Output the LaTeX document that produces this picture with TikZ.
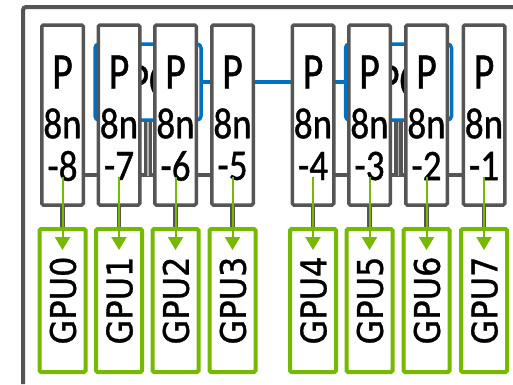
\documentclass[tikz,border=0pt]{standalone}
\usepackage{fontspec}
\newfontfamily\boxfont[FakeBold=1.0]{Carlito}
\newfontfamily\gpufont[FakeBold=1.0]{DejaVu Sans}
\usetikzlibrary{arrows.meta}
\definecolor{framegray}{HTML}{555555}
\definecolor{nvgreen}{HTML}{76B900}
\definecolor{linkblue}{HTML}{0070C0}
\begin{document}
\begin{tikzpicture}[x=1pt,y=-1pt,
  pbox/.style={draw=framegray,line width=3.5pt,fill=white,rounded corners=1.5pt,
    minimum width=41.5pt,minimum height=180pt,inner sep=0pt},
  gbox/.style={draw=nvgreen,line width=4pt,fill=white,rounded corners=1.5pt,
    minimum width=46pt,minimum height=143pt,inner sep=0pt},
  switchbox/.style={draw=linkblue,line width=3.5pt,rounded corners=4pt,
    minimum width=106pt,minimum height=76pt,inner sep=0pt},
  link/.style={draw=linkblue,line width=3.5pt},
  bus/.style={draw=framegray,line width=3.5pt},
  uplink/.style={draw=framegray,line width=3.3pt,double=framegray!45,double distance=1.8pt},
  feed/.style={draw=framegray,line width=4.5pt},
  garrow/.style={draw=nvgreen,fill=nvgreen,line width=2pt,-{Triangle[width=15pt,length=13pt]}},
  bigp/.style={font=\boxfont\fontsize{40}{40}\selectfont,inner sep=0pt},
  smallp/.style={font=\boxfont\fontsize{37}{37}\selectfont,inner sep=0pt},
  swtext/.style={font=\boxfont\fontsize{39}{39}\selectfont,inner sep=0pt,anchor=west},
  gputext/.style={font=\gpufont\fontsize{32}{32}\selectfont,inner sep=0pt,rotate=90}
]
\useasboundingbox (0,0) rectangle (513,384);
\fill[white] (0,0) rectangle (513,384);

% enclosure
\draw[framegray,line width=4pt,rounded corners=3pt] (23,384) -- (23,7) -- (513,7);

% PCIe switches and the link between them
\node[switchbox] (sw1) at (148,82) {};
\node[switchbox] (sw2) at (398.5,82) {};
\node[swtext] (sw1t) at ([xshift=-19.3pt,yshift=1pt]sw1.center) {\scalebox{1}[1.25]{PCIe}};
\node[swtext] (sw2t) at ([xshift=-19.3pt,yshift=1pt]sw2.center) {\scalebox{1}[1.25]{PCIe}};
\draw[link] (sw1.east) -- (sw2.west);

% gray buses below the switches
\coordinate (busA) at (63,175);
\coordinate (busB) at (232.5,175);
\coordinate (busC) at (313,175);
\coordinate (busD) at (484,175);
\draw[bus] (busA) -- (busB);
\draw[bus] (busC) -- (busD);
\coordinate (tapA) at (148,176);
\coordinate (tapB) at (398.5,176);
\draw[uplink] (sw1.south) -- (tapA);
\draw[uplink] (sw2.south) -- (tapB);

% port boxes and GPUs
\foreach \i/\x/\n in {1/62.5/8,2/119/7,3/175.5/6,4/232.5/5,5/313/4,6/369.5/3,7/426.5/2,8/484/1}{
  \node[gbox] (g\i) at (\x,300.5) {};
  \draw[feed] (\x,205) -- (g\i.north);
  \node[pbox] (p\i) at (\x,115) {};
  \node[bigp] (p\i a) at (\x,72) {\scalebox{1}[1.28]{P}};
  \node[smallp] (p\i b) at (\x,123.5) {\scalebox{1}[1.18]{8n}};
  \node[smallp] (p\i c) at (\x,166) {\scalebox{1}[1.18]{-\n}};
  \coordinate (s\i) at (\x,177);
  \coordinate (t\i) at (\x,250);
  \draw[garrow] (s\i) -- (t\i);
}
\foreach \i in {1,...,8}{
  \pgfmathtruncatemacro{\k}{\i-1}
  \node[gputext] (gl\i) at ([xshift=0.5pt]g\i.center) {\scalebox{1}[1.1]{GPU\k}};
}
\end{tikzpicture}
\end{document}
